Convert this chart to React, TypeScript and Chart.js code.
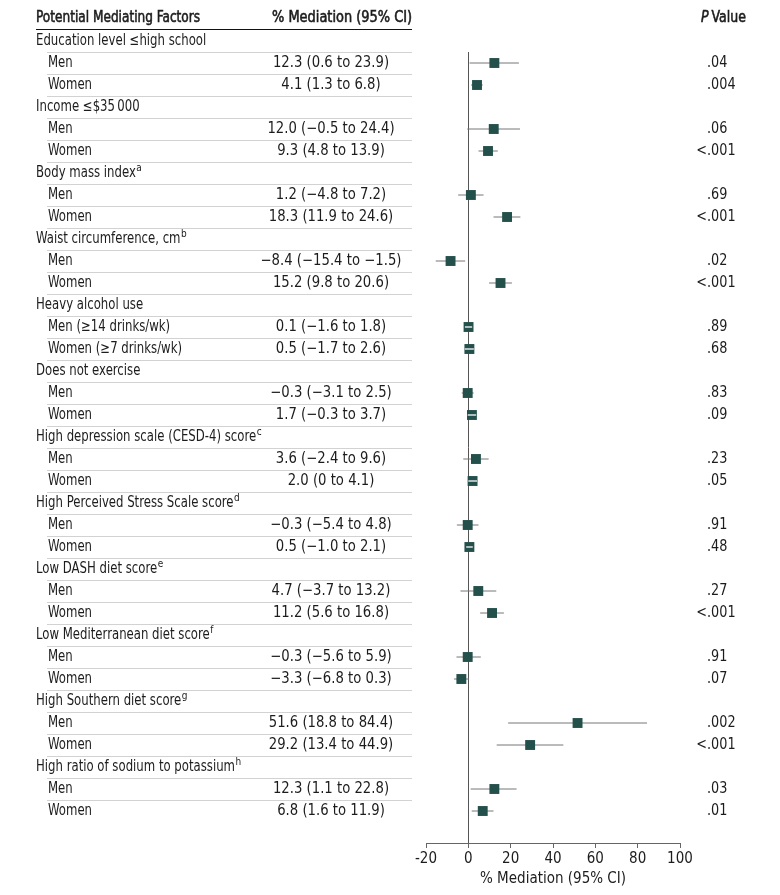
import React, { useEffect, useRef } from "react";
import { Chart, registerables } from "chart.js";

Chart.register(...registerables);

// ---------- data ----------
const groupLabels = [
  "Education level ≤high school",
  "Income ≤$35\u2009000",
  "Body mass index",
  "Waist circumference, cm",
  "Heavy alcohol use",
  "Does not exercise",
  "High depression scale (CESD-4) score",
  "High Perceived Stress Scale score",
  "Low DASH diet score",
  "Low Mediterranean diet score",
  "High Southern diet score",
  "High ratio of sodium to potassium",
];
const groupNotes = ["", "", "a", "b", "", "", "c", "d", "e", "f", "g", "h"];
const menLabels = ["Men", "Men", "Men", "Men", "Men (≥14 drinks/wk)", "Men", "Men", "Men", "Men", "Men", "Men", "Men"];
const womenLabels = ["Women", "Women", "Women", "Women", "Women (≥7 drinks/wk)", "Women", "Women", "Women", "Women", "Women", "Women", "Women"];

const menEst = [12.3, 12.0, 1.2, -8.4, 0.1, -0.3, 3.6, -0.3, 4.7, -0.3, 51.6, 12.3];
const menLo = [0.6, -0.5, -4.8, -15.4, -1.6, -3.1, -2.4, -5.4, -3.7, -5.6, 18.8, 1.1];
const menHi = [23.9, 24.4, 7.2, -1.5, 1.8, 2.5, 9.6, 4.8, 13.2, 5.9, 84.4, 22.8];
const menP = [".04", ".06", ".69", ".02", ".89", ".83", ".23", ".91", ".27", ".91", ".002", ".03"];

const womenEst = [4.1, 9.3, 18.3, 15.2, 0.5, 1.7, 2.0, 0.5, 11.2, -3.3, 29.2, 6.8];
const womenLo = [1.3, 4.8, 11.9, 9.8, -1.7, -0.3, 0, -1.0, 5.6, -6.8, 13.4, 1.6];
const womenHi = [6.8, 13.9, 24.6, 20.6, 2.6, 3.7, 4.1, 2.1, 16.8, 0.3, 44.9, 11.9];
const womenP = [".004", "<.001", "<.001", "<.001", ".68", ".09", ".05", ".48", "<.001", ".07", "<.001", ".01"];

const xTicks = [-20, 0, 20, 40, 60, 80, 100];

// ---------- styling ----------
const FONT = '"Liberation Sans Narrow", "DejaVu Sans Condensed", "Noto Sans", sans-serif';
const TEXT = "#1c1c1c";
const MARK = "#24504b";

type Row = {
  kind: "group" | "sub";
  label: string;
  note?: string;
  est?: number;
  lo?: number;
  hi?: number;
  p?: string;
};

function fmt(v: number): string {
  const s = Math.abs(v).toFixed(v === 0 ? 0 : 1);
  return (v < 0 ? "\u2212" : "") + s;
}

function buildRows(): Row[] {
  const rows: Row[] = [];
  groupLabels.forEach((g, i) => {
    rows.push({ kind: "group", label: g, note: groupNotes[i] });
    rows.push({ kind: "sub", label: menLabels[i], est: menEst[i], lo: menLo[i], hi: menHi[i], p: menP[i] });
    rows.push({ kind: "sub", label: womenLabels[i], est: womenEst[i], lo: womenLo[i], hi: womenHi[i], p: womenP[i] });
  });
  return rows;
}

// draws text horizontally condensed by sx; returns drawn width
function drawText(
  ctx: CanvasRenderingContext2D,
  text: string,
  x: number,
  y: number,
  font: string,
  sx: number,
  align: "left" | "center" | "right" = "left",
  heavy = false
): number {
  ctx.save();
  ctx.font = font;
  ctx.textAlign = "left";
  ctx.textBaseline = "middle";
  const w = ctx.measureText(text).width * sx;
  let left = x;
  if (align === "center") left = x - w / 2;
  if (align === "right") left = x - w;
  ctx.translate(left, y);
  ctx.scale(sx, 1);
  ctx.fillText(text, 0, 0);
  if (heavy) {
    ctx.lineWidth = 0.55;
    ctx.strokeStyle = ctx.fillStyle as string;
    ctx.strokeText(text, 0, 0);
  }
  ctx.restore();
  return w;
}

export default function App() {
  const ref = useRef<HTMLCanvasElement>(null);

  useEffect(() => {
    if (!ref.current) return;
    const rows = buildRows();
    const ciData: any[] = [];
    const ptData: any[] = [];
    rows.forEach((r, i) => {
      if (r.kind === "sub") {
        ciData.push({ x: r.lo, y: i }, { x: r.hi, y: i }, { x: r.hi, y: null });
        ptData.push({ x: r.est, y: i });
      }
    });

    const ROW_H = 22;
    const TOP = 30;
    const AXIS_Y = 843;
    const yMax = (AXIS_Y - TOP) / ROW_H - 0.5;
    const MARK_R = 7;
    const LBL = `15.5px ${FONT}`;
    const LSX = 0.84;
    const NUM = `15px ${FONT}`;

    const tablePlugin = {
      id: "forestTable",
      beforeDatasetsDraw(chart: any) {
        const ctx = chart.ctx as CanvasRenderingContext2D;
        const ys = chart.scales.y;
        const xs = chart.scales.x;
        ctx.save();
        ctx.fillStyle = TEXT;

        // header
        drawText(ctx, "Potential Mediating Factors", 36, 18, `15.5px ${FONT}`, 0.87, "left", true);
        drawText(ctx, "% Mediation (95% CI)", 272, 18, `15px ${FONT}`, 0.96, "left", true);
        const pw = drawText(ctx, "P", 701, 18, `italic 15px ${FONT}`, 0.93, "left", true);
        drawText(ctx, "Value", 701 + pw + 3, 18, `15px ${FONT}`, 0.93, "left", true);

        ctx.strokeStyle = "#111";
        ctx.lineWidth = 1;
        ctx.beginPath();
        ctx.moveTo(36, 29.5);
        ctx.lineTo(412, 29.5);
        ctx.stroke();

        // separators
        ctx.strokeStyle = "#d2d2d2";
        for (let i = 0; i < rows.length - 1; i++) {
          const y = Math.round(ys.getPixelForValue(i + 0.5)) + 0.5;
          ctx.beginPath();
          ctx.moveTo(47, y);
          ctx.lineTo(412, y);
          ctx.stroke();
        }

        // rows
        rows.forEach((r, i) => {
          const y = ys.getPixelForValue(i);
          ctx.fillStyle = TEXT;
          if (r.kind === "group") {
            const w = drawText(ctx, r.label, 36, y, LBL, LSX);
            if (r.note) drawText(ctx, r.note, 36 + w + 0.5, y - 5, `10.5px ${FONT}`, 0.95);
          } else {
            drawText(ctx, r.label, 48, y, LBL, LSX);
            drawText(ctx, `${fmt(r.est!)} (${fmt(r.lo!)} to ${fmt(r.hi!)})`, 331, y, NUM, 0.98, "center");
            const p = r.p!;
            if (p.startsWith("<")) {
              drawText(ctx, "<", 707, y, NUM, 0.95, "right");
              drawText(ctx, p.slice(1), 707, y, NUM, 0.95);
            } else {
              drawText(ctx, p, 707, y, NUM, 0.95);
            }
          }
        });

        // zero reference line
        const x0 = Math.round(xs.getPixelForValue(0)) + 0.5;
        ctx.strokeStyle = "#555";
        ctx.lineWidth = 1;
        ctx.beginPath();
        ctx.moveTo(x0, ys.getPixelForValue(0.5));
        ctx.lineTo(x0, chart.chartArea.bottom);
        ctx.stroke();
        ctx.restore();
      },
      afterDatasetsDraw(chart: any) {
        const ctx = chart.ctx as CanvasRenderingContext2D;
        const ys = chart.scales.y;
        const xs = chart.scales.x;
        const side = 2 * MARK_R * Math.SQRT1_2;
        ctx.save();
        ctx.strokeStyle = "rgba(255,255,255,0.85)";
        ctx.lineWidth = 1.5;
        rows.forEach((r, i) => {
          if (r.kind !== "sub") return;
          const a = xs.getPixelForValue(r.lo);
          const b = xs.getPixelForValue(r.hi);
          if (b - a < side) {
            const y = ys.getPixelForValue(i);
            ctx.beginPath();
            ctx.moveTo(a, y);
            ctx.lineTo(b, y);
            ctx.stroke();
          }
        });
        ctx.restore();
      },
    };

    const chart = new Chart(ref.current, {
      type: "scatter",
      data: {
        datasets: [
          {
            type: "scatter",
            data: ptData,
            pointStyle: "rect",
            pointRadius: MARK_R,
            pointHoverRadius: MARK_R,
            backgroundColor: MARK,
            borderColor: MARK,
            borderWidth: 0,
            order: 1,
          } as any,
          {
            type: "line",
            data: ciData,
            borderColor: "#767676",
            borderWidth: 1,
            pointRadius: 0,
            spanGaps: false,
            fill: false,
            order: 2,
          } as any,
        ],
      },
      options: {
        animation: false,
        responsive: false,
        maintainAspectRatio: false,
        layout: { padding: { left: 426, right: 100, top: TOP, bottom: 0 } },
        plugins: { legend: { display: false }, tooltip: { enabled: false } },
        scales: {
          x: {
            type: "linear",
            min: xTicks[0],
            max: xTicks[xTicks.length - 1],
            afterBuildTicks: (s: any) => {
              s.ticks = xTicks.map((v) => ({ value: v }));
            },
            ticks: { font: { family: FONT, size: 15 }, color: TEXT, padding: 2, maxRotation: 0 },
            grid: { drawOnChartArea: false, drawTicks: true, tickLength: 5, color: "#666" },
            border: { display: true, color: "#666", width: 1 },
            title: {
              display: true,
              text: "% Mediation (95% CI)",
              font: { family: FONT, size: 15 },
              color: TEXT,
              padding: { top: 2, bottom: 7 },
            },
            afterFit: (s: any) => {
              s.height = 895 - AXIS_Y;
            },
          },
          y: { type: "linear", reverse: true, min: -0.5, max: yMax, display: false },
        },
      },
      plugins: [tablePlugin],
    });
    return () => chart.destroy();
  }, []);

  return (
    <div style={{ position: "fixed", left: 0, top: 0, width: 780, height: 895, background: "#fff" }}>
      <canvas ref={ref} width={780} height={895} style={{ width: 780, height: 895, display: "block" }} />
    </div>
  );
}
